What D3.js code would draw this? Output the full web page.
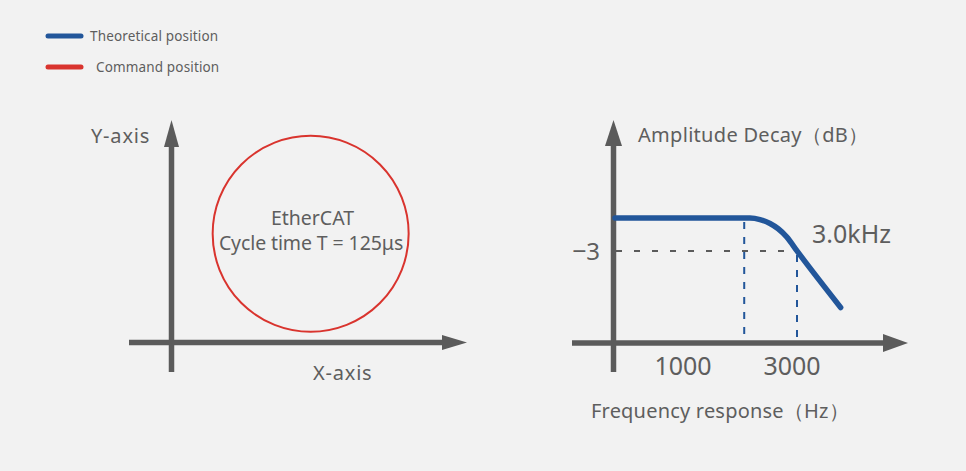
<!DOCTYPE html>
<html>
<head>
<meta charset="utf-8">
<script src="https://cdn.jsdelivr.net/npm/d3@7/dist/d3.min.js"></script>
<style>
  html, body { margin: 0; padding: 0; background: #f2f2f2; }
  svg { display: block; }
  text { font-family: "Noto Sans", "Open Sans", sans-serif; fill: #5e5e5e; }
</style>
</head>
<body>
<svg id="chart" width="966" height="471"></svg>
<script>
// ---------- data ----------
const legendLabels = ["Theoretical position", "Command position"];
const legendColors = ["#22569a", "#d9342e"];

// Left panel: command circle (in position units)
const circleCenter = [1.42, 1.11];
const circleRadius = 1.0;
const circleLabels = ["EtherCAT", "Cycle time T = 125μs"];
const leftAxisLabels = ["X-axis", "Y-axis"];

// Right panel: frequency response (Hz, dB)
const freqHz = [0, 2225, 2390, 2555, 2690, 2830, 3000, 3720];
const decayDb = [0, 0, -0.14, -0.5, -0.98, -1.72, -3.0, -8.16];
const cornerFreq = 2130;
const cutoffFreq = 3000;
const cutoffDb = -3;
const cutoffLabel = "3.0kHz";
const freqTicks = [1000, 3000];
const rightAxisLabels = ["Frequency response（Hz）", "Amplitude Decay（dB）"];

// ---------- drawing ----------
const svg = d3.select("#chart");
const axisColor = "#5b5b5b";
const blue = legendColors[0], red = legendColors[1];

svg.append("rect").attr("width", 966).attr("height", 471).attr("fill", "#f2f2f2");

// legend
const lg = svg.append("g");
legendLabels.forEach((lab, i) => {
  const y = 36 + i * 31;
  lg.append("line").attr("x1", 48).attr("x2", 81).attr("y1", y).attr("y2", y)
    .attr("stroke", legendColors[i]).attr("stroke-width", 5).attr("stroke-linecap", "round");
  lg.append("text").attr("x", i === 0 ? 90 : 96).attr("y", y + 4.5)
    .attr("font-size", 13.5).attr("letter-spacing", 0.15).text(lab);
});

function arrowV(g, x, yTip, w, len) {
  g.append("path").attr("d", `M${x},${yTip} L${x + w / 2},${yTip + len} L${x - w / 2},${yTip + len} Z`)
    .attr("fill", axisColor);
}
function arrowH(g, xTip, y, h, len) {
  g.append("path").attr("d", `M${xTip},${y} L${xTip - len},${y - h / 2} L${xTip - len},${y + h / 2} Z`)
    .attr("fill", axisColor);
}

// ----- left panel -----
const xL = d3.scaleLinear().domain([0, 3]).range([171.5, 171.5 + 3 * 98]);
const yL = d3.scaleLinear().domain([0, 2]).range([342.5, 342.5 - 2 * 98]);
const L = svg.append("g");
L.append("line").attr("x1", xL(0)).attr("x2", xL(0)).attr("y1", 372).attr("y2", 140)
  .attr("stroke", axisColor).attr("stroke-width", 5.5);
arrowV(L, xL(0), 120, 15, 27);
L.append("line").attr("x1", 129).attr("x2", 445).attr("y1", yL(0)).attr("y2", yL(0))
  .attr("stroke", axisColor).attr("stroke-width", 5.5);
arrowH(L, 467, yL(0), 15, 25);

L.append("circle")
  .attr("cx", xL(circleCenter[0])).attr("cy", yL(circleCenter[1]))
  .attr("r", xL(circleRadius) - xL(0))
  .attr("fill", "none").attr("stroke", red).attr("stroke-width", 2);

L.append("text").attr("x", 312.5).attr("y", 225)
  .attr("text-anchor", "middle").attr("font-size", 19.5).text(circleLabels[0]);
L.append("text").attr("x", 311).attr("y", 250)
  .attr("text-anchor", "middle").attr("font-size", 19.5).attr("letter-spacing", -0.1).text(circleLabels[1]);

L.append("text").attr("x", 313).attr("y", 380).attr("font-size", 20).attr("letter-spacing", 0.8).text(leftAxisLabels[0]);
L.append("text").attr("x", 91).attr("y", 143).attr("font-size", 20).attr("letter-spacing", 0.8).text(leftAxisLabels[1]);

// ----- right panel -----
const xR = d3.scaleLinear().domain([0, 3000]).range([615, 797]);
const yR = d3.scaleLinear().domain([-11.4, 0]).range([343, 218]);
const axX = 613.5;
const R = svg.append("g");

// dashed guides
R.append("line").attr("x1", 616).attr("x2", xR(cutoffFreq)).attr("y1", yR(cutoffDb)).attr("y2", yR(cutoffDb))
  .attr("stroke", "#5b5b5b").attr("stroke-width", 2).attr("stroke-dasharray", "6,12");
R.append("line").attr("x1", xR(cornerFreq)).attr("x2", xR(cornerFreq)).attr("y1", yR(0) + 4).attr("y2", yR(-11.4))
  .attr("stroke", blue).attr("stroke-width", 2).attr("stroke-dasharray", "7,8");
R.append("line").attr("x1", xR(cutoffFreq)).attr("x2", xR(cutoffFreq)).attr("y1", yR(cutoffDb) + 4).attr("y2", yR(-11.4))
  .attr("stroke", blue).attr("stroke-width", 2).attr("stroke-dasharray", "7,8");

// axes
R.append("line").attr("x1", axX).attr("x2", axX).attr("y1", 372).attr("y2", 140)
  .attr("stroke", axisColor).attr("stroke-width", 5.5);
arrowV(R, axX, 120, 17, 26);
R.append("line").attr("x1", 572).attr("x2", 886).attr("y1", yR(-11.4)).attr("y2", yR(-11.4))
  .attr("stroke", axisColor).attr("stroke-width", 5.5);
arrowH(R, 908, yR(-11.4), 18, 25);

// response curve
const pts = freqHz.map((f, i) => [f, decayDb[i]]);
R.append("path").datum(pts)
  .attr("d", d3.line().x(d => xR(d[0])).y(d => yR(d[1])).curve(d3.curveMonotoneX))
  .attr("fill", "none").attr("stroke", blue).attr("stroke-width", 5.5)
  .attr("stroke-linecap", "round").attr("stroke-linejoin", "round");

// labels
R.append("text").attr("x", 600).attr("y", 260).attr("text-anchor", "end").attr("font-size", 24)
  .text(String(cutoffDb).replace("-", "‒"));
R.append("text").attr("x", 812).attr("y", 243).attr("font-size", 25).text(cutoffLabel);
freqTicks.forEach((t, i) => {
  R.append("text").attr("x", i === 0 ? 683 : 792).attr("y", 375).attr("text-anchor", "middle")
    .attr("font-size", 25).text(t);
});
R.append("text").attr("x", 591).attr("y", 418).attr("font-size", 20).attr("letter-spacing", 0.2).text(rightAxisLabels[0]);
R.append("text").attr("x", 638).attr("y", 142).attr("font-size", 20).attr("letter-spacing", 0.3).text(rightAxisLabels[1]);
</script>
</body>
</html>
